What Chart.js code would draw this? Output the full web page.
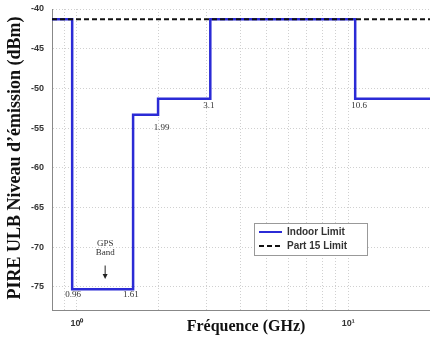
<!DOCTYPE html>
<html>
<head>
<meta charset="utf-8">
<script src="https://cdn.jsdelivr.net/npm/chart.js@4/dist/chart.umd.min.js"></script>
<style>
  html, body { margin: 0; padding: 0; background: #fff; }
  #wrap { width: 430px; height: 341px; position: relative; }
</style>
</head>
<body>
<div id="wrap"><canvas id="chart-uwb" width="430" height="341"></canvas></div>
<script>
// step edges (GHz) and indoor limit levels (dBm) between them
const edgesGHz = [0.809, 0.96, 1.61, 1.99, 3.1, 10.6, 20];
const indoorDbm = [-41.3, -75.3, -53.3, -51.3, -41.3, -51.3];
const part15Dbm = -41.3;

const yTicks = [-40, -45, -50, -55, -60, -65, -70, -75];
const xGridGHz = [0.9, 1, 2, 3, 4, 5, 6, 7, 8, 9, 10, 20];
const xTickLabels = { 1: "10\u2070", 10: "10\u00b9" };

// corner notes, placed in data units
const noteText = ["0.96", "1.61", "1.99", "3.1", "10.6"];
const noteFreq = [0.967, 1.58, 2.05, 3.06, 10.97];
const noteLevel = [-76.0, -76.0, -54.9, -52.2, -52.2];

const gpsFreq = 1.27;
const gpsText = ["GPS", "Band"];
const gpsTextLevel = [-69.5, -70.7];
const gpsArrow = [-72.3, -74.0];

const indoorPts = indoorDbm.map((v, i) => ({ x: edgesGHz[i], y: v }));
indoorPts.push({ x: edgesGHz[edgesGHz.length - 1], y: indoorDbm[indoorDbm.length - 1] });
const part15Pts = [
  { x: edgesGHz[0], y: part15Dbm },
  { x: edgesGHz[edgesGHz.length - 1], y: part15Dbm },
];

const tickFont = { family: "'Liberation Sans', Arial, sans-serif", size: 9, weight: "bold" };
const serif = "'Liberation Serif', 'Times New Roman', serif";

const overlay = {
  id: "overlay",
  afterDatasetsDraw(chart) {
    const { ctx, scales } = chart;
    const x = scales.x, y = scales.y;
    ctx.save();

    // corner value notes
    ctx.fillStyle = "#333";
    ctx.font = "9px " + serif;
    ctx.textAlign = "center";
    ctx.textBaseline = "middle";
    noteText.forEach((t, i) => {
      ctx.fillText(t, x.getPixelForValue(noteFreq[i]), y.getPixelForValue(noteLevel[i]));
    });

    // GPS band note with arrow
    const gx = x.getPixelForValue(gpsFreq);
    gpsText.forEach((t, i) => ctx.fillText(t, gx, y.getPixelForValue(gpsTextLevel[i])));
    const a0 = y.getPixelForValue(gpsArrow[0]);
    const a1 = y.getPixelForValue(gpsArrow[1]);
    ctx.strokeStyle = "#222";
    ctx.lineWidth = 1;
    ctx.beginPath();
    ctx.moveTo(gx, a0);
    ctx.lineTo(gx, a1 - 3);
    ctx.stroke();
    ctx.fillStyle = "#222";
    ctx.beginPath();
    ctx.moveTo(gx - 2.5, a1 - 5);
    ctx.lineTo(gx + 2.5, a1 - 5);
    ctx.lineTo(gx, a1);
    ctx.closePath();
    ctx.fill();

    // legend box
    const lx = 254, ly = 223, lw = 113, lh = 32;
    ctx.fillStyle = "#fff";
    ctx.fillRect(lx, ly, lw, lh);
    ctx.strokeStyle = "#999";
    ctx.lineWidth = 1;
    ctx.strokeRect(lx + 0.5, ly + 0.5, lw, lh);
    chart.data.datasets.forEach((ds, i) => {
      const ry = ly + 9 + i * 14;
      ctx.strokeStyle = ds.borderColor;
      ctx.lineWidth = 2;
      ctx.setLineDash(ds.borderDash || []);
      ctx.beginPath();
      ctx.moveTo(lx + 5, ry);
      ctx.lineTo(lx + 28, ry);
      ctx.stroke();
      ctx.setLineDash([]);
      ctx.fillStyle = "#333";
      ctx.font = "bold 10px 'Liberation Sans', Arial, sans-serif";
      ctx.textAlign = "left";
      ctx.fillText(ds.label, lx + 33, ry);
    });

    // axis titles
    ctx.fillStyle = "#111";
    ctx.textAlign = "center";
    ctx.font = "bold 16px " + serif;
    ctx.fillText("Fréquence (GHz)", 246, 327);
    ctx.translate(15, 158);
    ctx.rotate(-Math.PI / 2);
    ctx.font = "bold 18px " + serif;
    ctx.fillText("PIRE ULB Niveau d\u2019émission (dBm)", 0, 0);
    ctx.restore();
  },
};

new Chart(document.getElementById("chart-uwb"), {
  type: "line",
  data: {
    datasets: [
      {
        label: "Indoor Limit",
        data: indoorPts,
        borderColor: "#2b2bd6",
        borderWidth: 2.5,
        stepped: true,
        pointRadius: 0,
        order: 2,
      },
      {
        label: "Part 15 Limit",
        data: part15Pts,
        borderColor: "#111",
        borderWidth: 2,
        borderDash: [5, 3],
        pointRadius: 0,
        order: 1,
      },
    ],
  },
  options: {
    responsive: false,
    animation: false,
    events: [],
    layout: { padding: { top: 9, right: 0, left: 0, bottom: 0 } },
    plugins: { legend: { display: false }, tooltip: { enabled: false } },
    scales: {
      x: {
        type: "logarithmic",
        min: edgesGHz[0],
        max: edgesGHz[edgesGHz.length - 1],
        afterBuildTicks(s) { s.ticks = xGridGHz.map((v) => ({ value: v })); },
        afterFit(s) { s.height = 31; s.paddingLeft = 0; s.paddingRight = 0; },
        border: { color: "#888", width: 1, dash: [1, 2] },
        grid: { color: "#d0d0d0", drawTicks: false },
        ticks: {
          autoSkip: false,
          maxRotation: 0,
          padding: 8,
          color: "#333",
          font: tickFont,
          callback: (v) => xTickLabels[v] || "",
        },
      },
      y: {
        min: -77.9,
        max: -40,
        afterBuildTicks(s) { s.ticks = yTicks.map((v) => ({ value: v })); },
        afterFit(s) { s.width = 52; s.paddingTop = 0; s.paddingBottom = 0; },
        border: { color: "#888", width: 1, dash: [1, 2] },
        grid: { color: "#d0d0d0", drawTicks: false },
        ticks: { padding: 8, color: "#333", font: tickFont },
      },
    },
  },
  plugins: [overlay],
});
</script>
</body>
</html>
